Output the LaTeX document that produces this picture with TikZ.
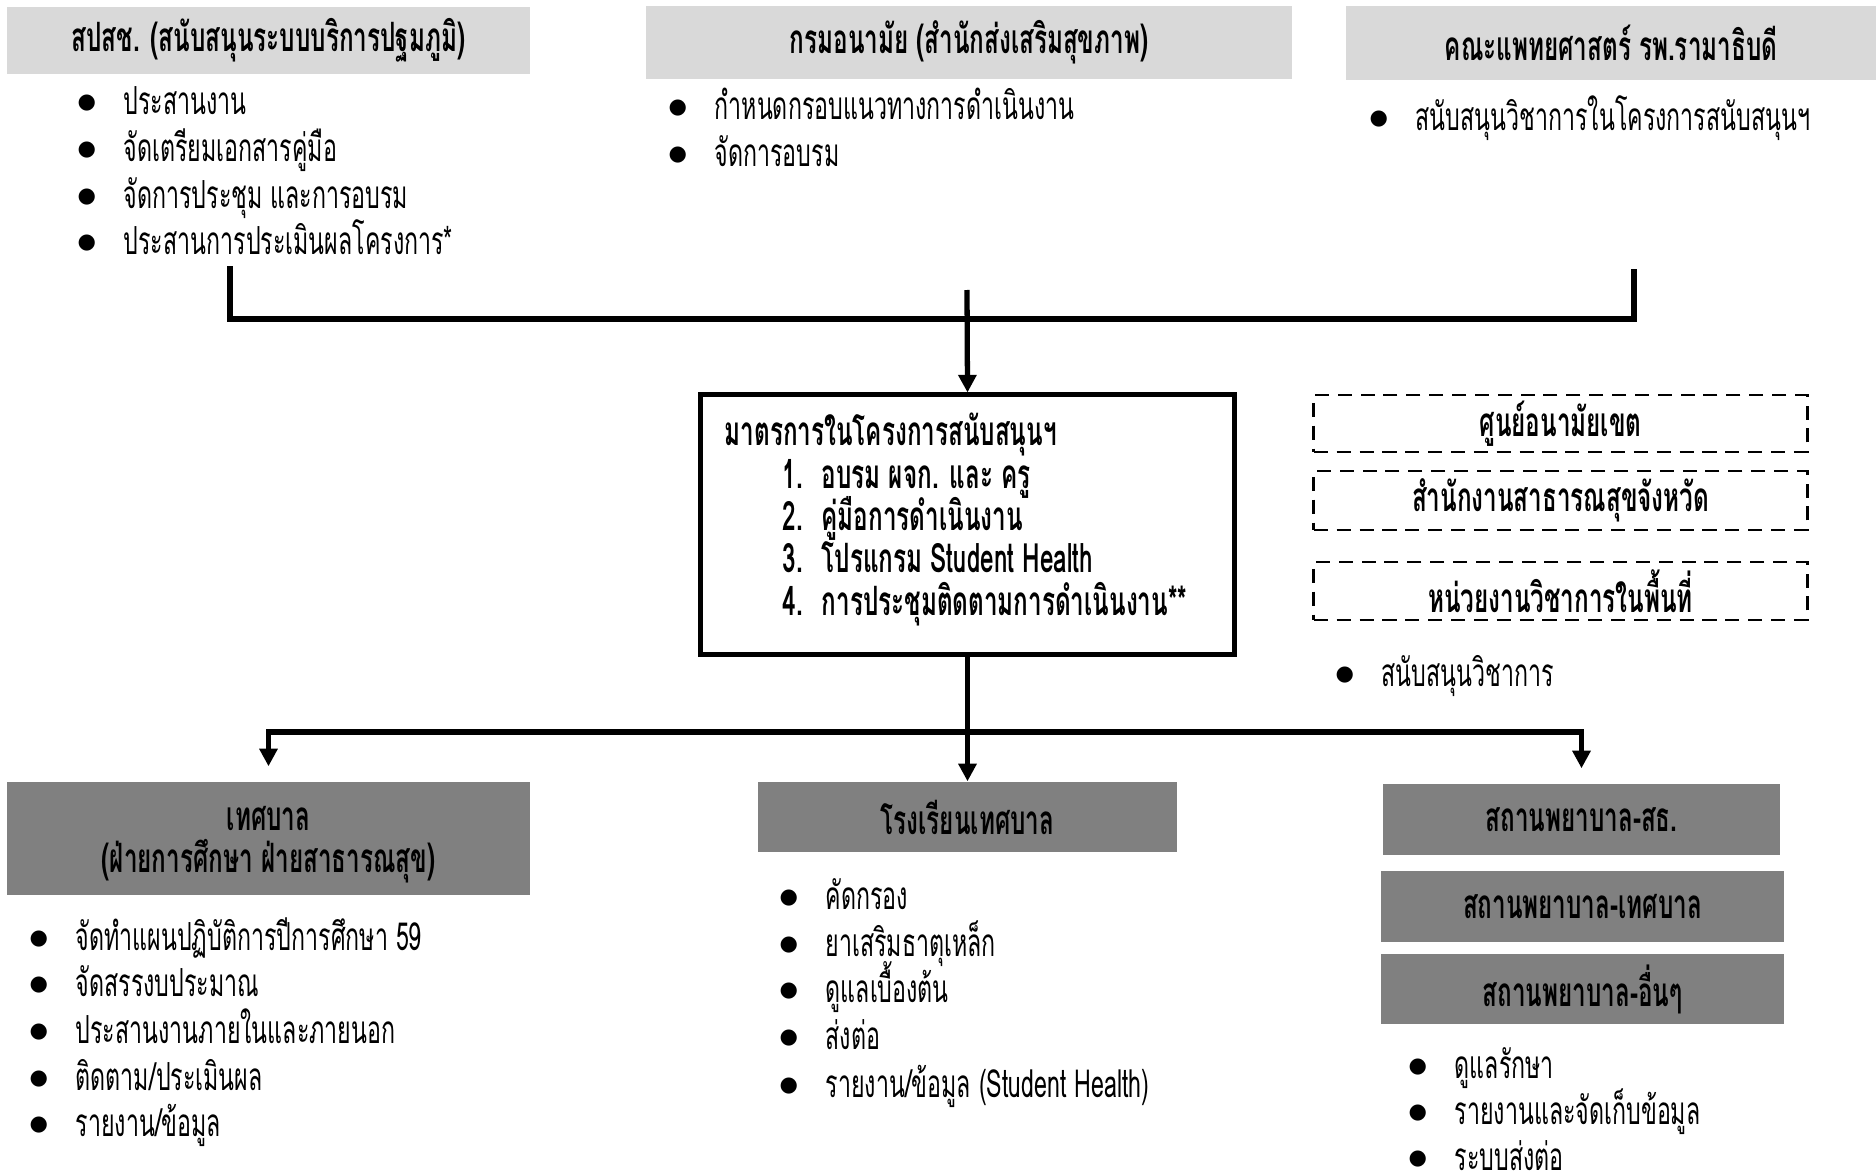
\documentclass[tikz,border=0pt]{standalone}
\usepackage{fontspec}
\newfontfamily\thaifont[Script=Thai, FakeStretch=0.6]{Loma}
\newfontfamily\symbfont{DejaVu Sans}
\usetikzlibrary{arrows.meta,positioning,calc}
\definecolor{boxlight}{HTML}{D9D9D9}
\definecolor{boxdark}{HTML}{808080}
\newcommand{\bul}{\makebox[0.46cm][l]{\raisebox{1.6pt}{\symbfont\fontsize{6}{6}\selectfont ●}}}
\newcommand{\num}[1]{\makebox[0.39cm][l]{#1}}

\begin{document}
\begin{tikzpicture}[x=0.01cm, y=-0.01cm, >={Triangle[width=5pt,length=5pt]}]
\tikzstyle{headbox}=[inner sep=0pt, text=black, align=center, font=\thaifont\bfseries\fontsize{11.5}{12}\selectfont]
\tikzstyle{topbox}=[headbox, fill=boxlight]
\tikzstyle{lowbox}=[headbox, fill=boxdark]
\tikzstyle{dashbox}=[headbox, draw, dashed, line width=0.8pt, dash pattern=on 4pt off 2.5pt]
\tikzstyle{item}=[anchor=west, inner sep=0pt, text height=0.9em, text depth=0.1em, font=\thaifont\fontsize{11}{11}\selectfont]
\tikzstyle{boxline}=[anchor=west, inner sep=0pt, text height=0.9em, text depth=0.1em, font=\thaifont\bfseries\fontsize{11.5}{12}\selectfont]
\tikzstyle{link}=[line width=1.5pt]
\useasboundingbox (0,0) rectangle (1876,1176);

% top level
\node[topbox, minimum width=5.23cm, minimum height=0.67cm] (spsch) at (268.5,40.5) {สปสช. (สนับสนุนระบบบริการปฐมภูมิ)};
\node[topbox, minimum width=6.46cm, minimum height=0.73cm] (anamai) at (969,42.5) {กรมอนามัย (สำนักส่งเสริมสุขภาพ)};
\node[topbox, minimum width=5.30cm, minimum height=0.74cm] (rama) at (1611,43) {คณะแพทยศาสตร์ รพ.รามาธิบดี};

\node[item] (s1) at (77,100) {\bul ประสานงาน};
\node[item] (s2) at (77,147) {\bul จัดเตรียมเอกสารคู่มือ};
\node[item] (s3) at (77,194) {\bul จัดการประชุม และการอบรม};
\node[item] (s4) at (77,240) {\bul ประสานการประเมินผลโครงการ*};
\node[item] (a1) at (668,105) {\bul กำหนดกรอบแนวทางการดำเนินงาน};
\node[item] (a2) at (668,152) {\bul จัดการอบรม};
\node[item] (r1) at (1369,116) {\bul สนับสนุนวิชาการในโครงการสนับสนุนฯ};

% bracket
\coordinate (tl) at (230,266);
\coordinate (tr) at (1634,269);
\coordinate (tc) at (967,290);
\coordinate (tbar) at (967,319);
\draw[link] (tl) |- (tr |- tbar) -- (tr);

% measures
\node[draw, line width=1.4pt, minimum width=5.33cm, minimum height=2.59cm] (main) at (967.5,524.5) {};
\node[boxline] (m0) at (724,431) {มาตรการในโครงการสนับสนุนฯ};
\node[boxline] (m1) at (782,474) {\num{1.}อบรม ผจก. และ ครู};
\node[boxline] (m2) at (782,516) {\num{2.}คู่มือการดำเนินงาน};
\node[boxline] (m3) at (782,558) {\num{3.}โปรแกรม Student Health};
\node[boxline] (m4) at (782,601) {\num{4.}การประชุมติดตามการดำเนินงาน**};
\draw[link,->] (tc) -- (main.north);

% area units
\node[dashbox, minimum width=4.93cm, minimum height=0.57cm] (zone) at (1560.5,423.5) {ศูนย์อนามัยเขต};
\node[dashbox, minimum width=4.93cm, minimum height=0.59cm] (prov) at (1560.5,500.5) {สำนักงานสาธารณสุขจังหวัด};
\node[dashbox, minimum width=4.93cm, minimum height=0.58cm] (acad) at (1560.5,591) {หน่วยงานวิชาการในพื้นที่};
\node[item] (z1) at (1335,672) {\bul สนับสนุนวิชาการ};

% local level
\node[lowbox, minimum width=5.23cm, minimum height=1.13cm] (muni) at (268.5,838.5) {\rule{0pt}{10.5pt}เทศบาล\\(ฝ่ายการศึกษา ฝ่ายสาธารณสุข)};
\node[lowbox, minimum width=4.19cm, minimum height=0.70cm] (school) at (967.5,817) {โรงเรียนเทศบาล};
\node[lowbox, minimum width=3.97cm, minimum height=0.71cm] (hos1) at (1581.5,819.5) {สถานพยาบาล-สธ.};
\node[lowbox, minimum width=4.03cm, minimum height=0.71cm] (hos2) at (1582.5,906.5) {สถานพยาบาล-เทศบาล};
\node[lowbox, minimum width=4.03cm, minimum height=0.70cm] (hos3) at (1582.5,989) {สถานพยาบาล-อื่นๆ};

\coordinate (fork) at (967,732);
\draw[link,->] (main.south) -- (school.north);
\draw[link,->,shorten >=0.15cm] (fork) -| (muni.north);
\draw[link,->,shorten >=0.15cm] (fork) -| (hos1.north);

\node[item] (t1) at (29,936) {\bul จัดทำแผนปฏิบัติการปีการศึกษา 59};
\node[item] (t2) at (29,982) {\bul จัดสรรงบประมาณ};
\node[item] (t3) at (29,1029) {\bul ประสานงานภายในและภายนอก};
\node[item] (t4) at (29,1076) {\bul ติดตาม/ประเมินผล};
\node[item] (t5) at (29,1122) {\bul รายงาน/ข้อมูล};

\node[item] (c1) at (779,895) {\bul คัดกรอง};
\node[item] (c2) at (779,942) {\bul ยาเสริมธาตุเหล็ก};
\node[item] (c3) at (779,988) {\bul ดูแลเบื้องต้น};
\node[item] (c4) at (779,1035) {\bul ส่งต่อ};
\node[item] (c5) at (779,1083) {\bul รายงาน/ข้อมูล (Student Health)};

\node[item] (h1) at (1408,1064) {\bul ดูแลรักษา};
\node[item] (h2) at (1408,1110) {\bul รายงานและจัดเก็บข้อมูล};
\node[item] (h3) at (1408,1156) {\bul ระบบส่งต่อ};
\end{tikzpicture}
\end{document}
